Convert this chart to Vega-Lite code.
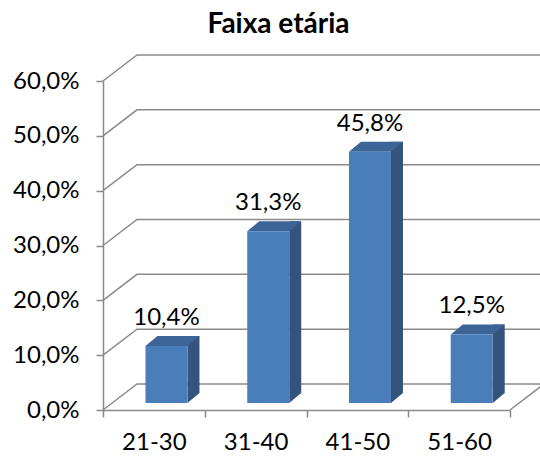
{
  "$schema": "https://vega.github.io/schema/vega-lite/v6.json",
  "autosize": {"type": "none"},
  "padding": {"left": 103, "top": 81, "right": 30, "bottom": 51},
  "width": 407,
  "height": 329,
  "background": "white",
  "title": {"text": "Faixa etária", "font": "Lato", "fontSize": 28, "fontWeight": "bold", "color": "black", "dx": -28, "dy": -9},
  "config": {
    "locale": {"number": {"decimal": ",", "thousands": ".", "grouping": [3], "currency": ["", " €"]}},
    "view": {"stroke": null},
    "axis": {"labelFont": "Lato", "labelFontSize": 24, "labelColor": "black", "domainColor": "#8a8a8a", "tickColor": "#8a8a8a", "domainWidth": 1.5, "tickWidth": 1.5, "grid": false, "title": null}
  },
  "datasets": {
    "main": [
      {"age": "21-30", "pct": 0.104},
      {"age": "31-40", "pct": 0.313},
      {"age": "41-50", "pct": 0.458},
      {"age": "51-60", "pct": 0.125}
    ],
    "ticks": [{"v": 0}, {"v": 0.1}, {"v": 0.2}, {"v": 0.3}, {"v": 0.4}, {"v": 0.5}, {"v": 0.6}]
  },
  "encoding": {
    "x": {"field": "age", "type": "nominal", "sort": null,
      "scale": {"domain": ["21-30", "31-40", "41-50", "51-60"], "paddingInner": 0, "paddingOuter": 0},
      "axis": {"labelAngle": 0, "tickBand": "extent", "tickSize": 7, "labelPadding": 13}},
    "y": {"field": "pct", "type": "quantitative",
      "scale": {"domain": [0, 0.6], "nice": false, "zero": true},
      "axis": {"values": [0, 0.1, 0.2, 0.3, 0.4, 0.5, 0.6], "format": ".1%", "tickSize": 7, "labelPadding": 17}}
  },
  "layer": [
    {
      "data": {"name": "ticks"},
      "mark": {"type": "point", "shape": "M0,0L34,-26L460,-26", "size": 4, "filled": false, "stroke": "#8a8a8a", "strokeWidth": 1.5, "opacity": 1, "clip": false},
      "encoding": {
        "x": {"value": 0},
        "y": {"field": "v", "type": "quantitative"}
      }
    },
    {
      "data": {"name": "ticks"},
      "transform": [{"filter": "datum.v == 0"}],
      "mark": {"type": "point", "shape": "M0,0L34,-26", "size": 4, "filled": false, "stroke": "#8a8a8a", "strokeWidth": 1.5, "opacity": 1, "clip": false},
      "encoding": {
        "x": {"value": 407},
        "y": {"field": "v", "type": "quantitative"}
      }
    },
    {
      "data": {"name": "main"},
      "mark": {"type": "bar", "width": 12, "xOffset": 39.6, "yOffset": -17, "y2Offset": -17, "color": "#34547e"},
      "encoding": {"y2": {"datum": 0}}
    },
    {
      "data": {"name": "main"},
      "mark": {"type": "point", "shape": "M21,-10L33,-10L21,0Z", "size": 4, "filled": true, "color": "#34547e", "opacity": 1, "strokeWidth": 0, "xOffset": 12.6, "yOffset": -7},
      "encoding": {"y": {"datum": 0}}
    },
    {
      "data": {"name": "main"},
      "mark": {"type": "point", "shape": "M-21,0L21,0L33,-10L-9,-10Z", "size": 4, "filled": true, "color": "#3d6496", "opacity": 1, "strokeWidth": 0, "xOffset": 12.6, "yOffset": -7}
    },
    {
      "data": {"name": "main"},
      "mark": {"type": "bar", "width": 42, "xOffset": 12.6, "yOffset": -7, "y2Offset": -7, "color": "#4a7ebb"},
      "encoding": {"y2": {"datum": 0}}
    },
    {
      "data": {"name": "main"},
      "mark": {"type": "text", "font": "Lato", "fontSize": 24, "color": "black", "baseline": "alphabetic", "xOffset": 12.6, "yOffset": -28},
      "encoding": {"text": {"field": "pct", "type": "quantitative", "format": ".1%"}}
    }
  ]
}
